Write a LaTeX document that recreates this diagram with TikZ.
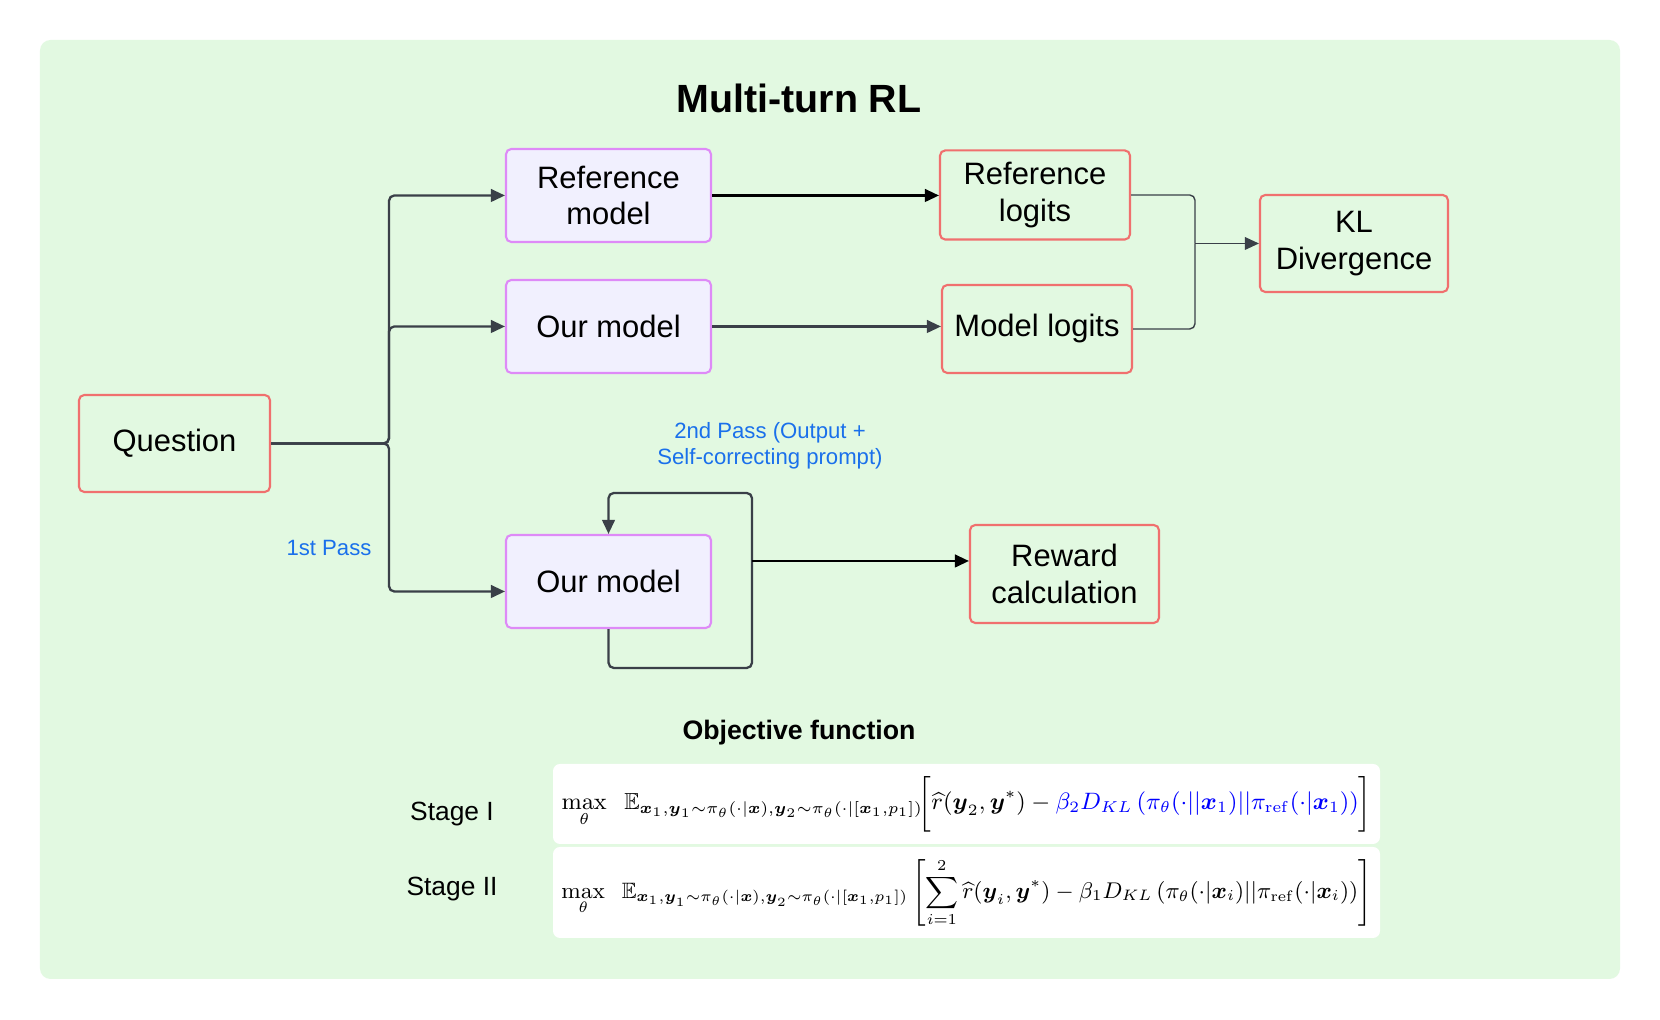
\documentclass[tikz,border=0pt]{standalone}
\usepackage{amsmath,amssymb}
\usepackage{graphicx}
\usepackage{xcolor}
\usepackage[no-math]{fontspec}
\setmainfont{Liberation Sans}
\usetikzlibrary{arrows.meta, positioning, calc}

\definecolor{bggreen}{RGB}{226,249,225}
\definecolor{modelfill}{RGB}{241,240,254}
\definecolor{modeledge}{RGB}{222,138,247}
\definecolor{outedge}{RGB}{240,112,110}
\definecolor{linkgrey}{RGB}{58,64,72}
\definecolor{passblue}{RGB}{26,112,235}

\newcommand{\vx}{\boldsymbol{x}}
\newcommand{\vy}{\boldsymbol{y}}
\newcommand{\expsub}{\mathbb{E}_{\vx_1,\vy_1\sim\pi_\theta(\cdot|\vx),\vy_2\sim\pi_\theta(\cdot|[\vx_1,p_1])}}

\begin{document}
\begin{tikzpicture}[
    every node/.style={font=\fontsize{8.8}{10.5}\selectfont},
    modelbox/.style={rectangle, draw=modeledge, fill=modelfill, line width=0.6pt,
                     rounded corners=1.5pt, align=center, minimum width=2.05cm, minimum height=0.93cm},
    outbox/.style={rectangle, draw=outedge, line width=0.6pt,
                   rounded corners=1.5pt, align=center, minimum width=1.9cm, minimum height=0.9cm},
    flow/.style={-{Triangle[length=4pt, width=3.6pt]}, line width=0.65pt, draw=linkgrey, rounded corners=1.5pt},
    flowdark/.style={flow, draw=black},
    thinlink/.style={line width=0.4pt, draw=linkgrey, rounded corners=1.5pt},
    passlbl/.style={font=\fontsize{6.3}{7.5}\selectfont, text=passblue, align=center},
    panel/.style={rectangle, fill=white, rounded corners=2pt, inner sep=0pt, minimum width=8.27cm},
    stagelbl/.style={font=\fontsize{7.5}{9}\selectfont}
]

% === Canvas ===
\useasboundingbox (0,0) rectangle (16.6,10.2);
\fill[white] (0,0) rectangle (16.6,10.2);
\fill[bggreen, rounded corners=3pt] (0.40,0.41) rectangle (16.20,9.80);

\node[font=\bfseries\fontsize{11.2}{13}\selectfont] (title) at (7.99, 9.215) {Multi-turn RL};

% === Models ===
\node[outbox, minimum width=1.91cm, minimum height=0.97cm] (quest) at (1.745, 5.765) {Question};

\node[modelbox] (refm) at (6.085, 8.245) {Reference\\model};
\node[modelbox] (ourm) at (6.085, 6.935) {Our model};
\node[modelbox] (ourm2) at (6.085, 4.385) {Our model};

\coordinate (split) at (3.89, 5.765);
\draw[flow] (quest.east) -- (split) |- (refm.west);
\draw[flow] (quest.east) -- (split) |- (ourm.west);
\draw[flow] (quest.east) -- (split) |- ([yshift=-1mm]ourm2.west);

\node[passlbl] (firstpass) at (3.29, 4.72) {1st Pass};

% === Logits & KL ===
\node[outbox, minimum height=0.88cm] (reflog) at (10.35, 8.25) {Reference\\logits};
\node[outbox, minimum height=0.88cm] (modlog) at (10.37, 6.91) {Model logits};
\node[outbox, minimum width=1.88cm, minimum height=0.97cm] (kl) at (13.54, 7.765) {KL\\Divergence};

\draw[flowdark] (refm.east) -- (refm.east -| reflog.west);
\draw[flow] (ourm.east) -- (ourm.east -| modlog.west);

\coordinate (kljoin) at (11.95, 7.765);
\draw[thinlink] (reflog.east) -| (kljoin);
\draw[thinlink] (modlog.east) -| (kljoin);
\draw[flow, line width=0.4pt] (kljoin) -- (kl.west);

% === Second pass loop ===
\node[passlbl] (secondpass) at (7.70, 5.74) {2nd Pass (Output +\\Self-correcting prompt)};

\coordinate (loopb) at (7.52, 3.52);
\coordinate (loopt) at (7.52, 5.27);
\coordinate (loopr) at (7.52, 4.59);
\draw[flow] (ourm2.south) |- (loopb) -- (loopt) -| (ourm2.north);

\node[outbox, minimum width=1.89cm, minimum height=0.98cm] (reward) at (10.645, 4.46) {Reward\\calculation};
\draw[flowdark] (loopr) -- (loopr -| reward.west);

% === Objective function ===
\node[font=\bfseries\fontsize{7.6}{9}\selectfont] (objtitle) at (7.99, 2.87) {Objective function};

\node[panel, minimum height=0.80cm] (stage1) at (9.665, 2.16)
    {\resizebox{8.1cm}{!}{$\displaystyle \max_{\theta}\;\; \expsub\!\biggl[\widehat{r}(\vy_2,\vy^*) - \textcolor{blue}{\beta_2 D_{KL}\,(\pi_\theta(\cdot||\vx_1)||\pi_{\mathrm{ref}}(\cdot|\vx_1))}\biggr]$}};
\node[panel, minimum height=0.91cm] (stage2) at (9.665, 1.275)
    {\resizebox{8.1cm}{!}{$\displaystyle \max_{\theta}\;\; \expsub\left[\sum_{i=1}^{2}\widehat{r}(\vy_i,\vy^*) - \beta_1 D_{KL}\,(\pi_\theta(\cdot|\vx_i)||\pi_{\mathrm{ref}}(\cdot|\vx_i))\right]$}};

\node[stagelbl] (stage1lbl) at (4.52, 2.06) {Stage I};
\node[stagelbl] (stage2lbl) at (4.52, 1.31) {Stage II};

\end{tikzpicture}
\end{document}
